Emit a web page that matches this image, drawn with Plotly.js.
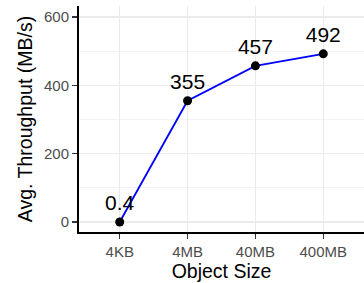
<!DOCTYPE html>
<html><head><meta charset="utf-8">
<script src="https://cdn.plot.ly/plotly-3.0.1.min.js"></script>
<style>html,body{margin:0;padding:0;background:#fff}</style>
</head><body>
<div id="chart" style="width:364px;height:283px"></div>
<script>
const categories = ["4KB", "4MB", "40MB", "400MB"];
const throughput = [0.4, 355, 457, 492];
const labels = ["0.4", "355", "457", "492"];

const trace = {
  x: categories,
  y: throughput,
  mode: "lines+markers+text",
  text: labels,
  textposition: "top center",
  textfont: {family: "Liberation Sans, Arial, sans-serif", size: 21, color: "#000"},
  line: {color: "#0000ff", width: 1.8},
  marker: {color: "#000", size: 9},
  cliponaxis: false,
  hoverinfo: "none"
};

const layout = {
  width: 364, height: 283,
  margin: {l: 79, r: 0, t: 6, b: 51},
  paper_bgcolor: "#fff", plot_bgcolor: "#fff",
  showlegend: false,
  font: {family: "Liberation Sans, Arial, sans-serif"},
  xaxis: {
    type: "category",
    range: [-0.6, 3.6],
    showline: true, linecolor: "#000", linewidth: 2,
    ticks: "outside", ticklen: 5, tickcolor: "#333", tickwidth: 1.2,
    tickfont: {size: 15, color: "#4d4d4d"},
    showgrid: true, gridcolor: "#ebebeb", gridwidth: 1.3,
    zeroline: false,
    title: {text: "Object Size", font: {size: 19.5, color: "#000"}, standoff: 3}
  },
  yaxis: {
    range: [-29, 632],
    tickvals: [0, 200, 400, 600],
    showline: true, linecolor: "#000", linewidth: 2,
    ticks: "outside", ticklen: 5, tickcolor: "#333", tickwidth: 1.2,
    tickfont: {size: 15, color: "#4d4d4d"},
    showgrid: true, gridcolor: "#ebebeb", gridwidth: 1.3,
    minor: {tickvals: [100, 300, 500], showgrid: true, gridcolor: "#f2f2f2", gridwidth: 0.9, ticks: ""},
    zeroline: false,
    title: {text: "Avg. Throughput (MB/s)", font: {size: 19.5, color: "#000"}, standoff: 6}
  }
};

Plotly.newPlot("chart", [trace], layout, {displayModeBar: false, staticPlot: true});
</script>
</body></html>
